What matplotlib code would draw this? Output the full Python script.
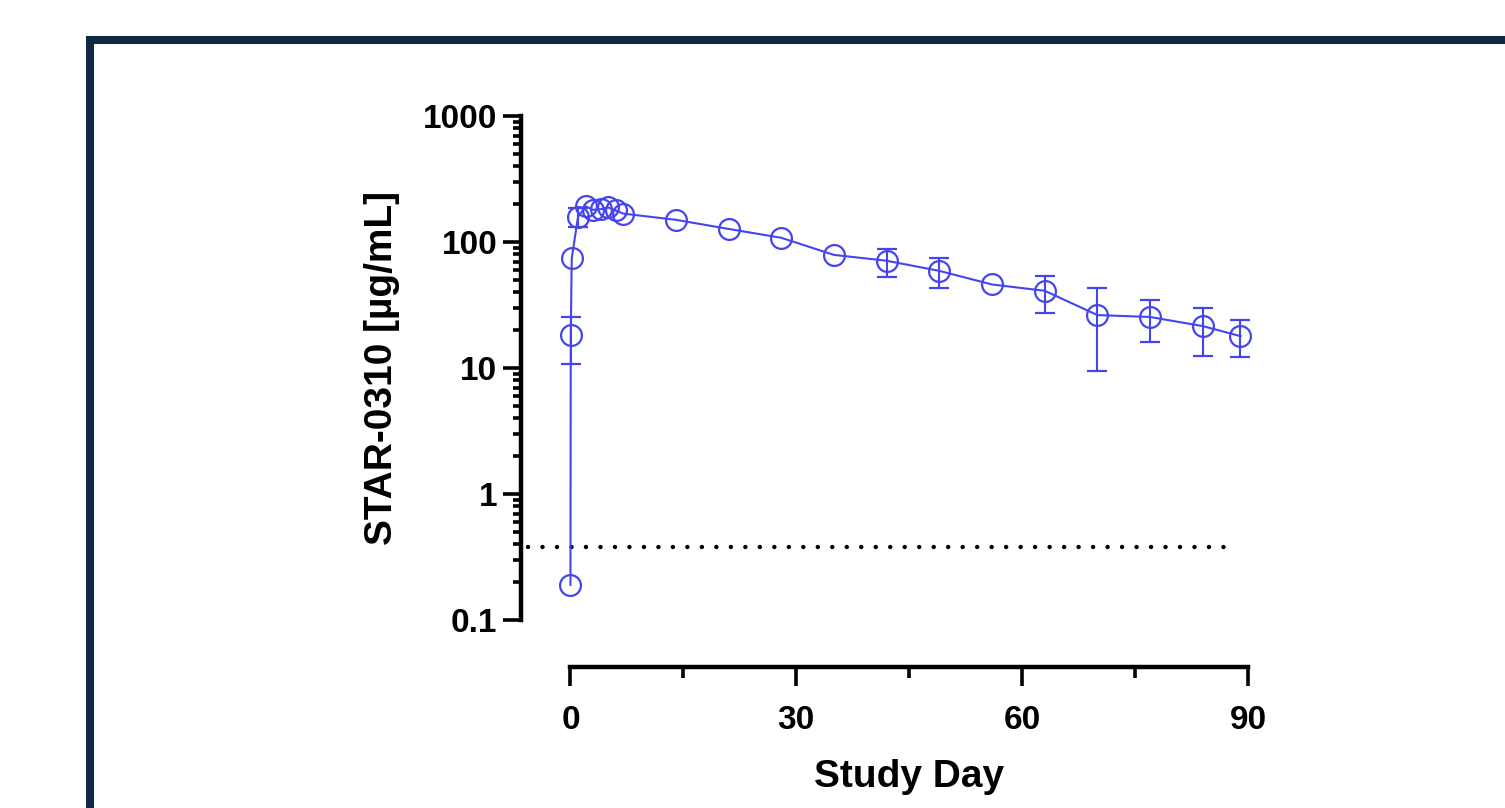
import numpy as np
import matplotlib
matplotlib.use("Agg")
import matplotlib.pyplot as plt
from matplotlib.patches import Rectangle
from matplotlib.ticker import LogLocator, FixedLocator, NullFormatter

plt.rcParams["font.family"] = ["Liberation Sans", "DejaVu Sans"]
plt.rcParams["font.weight"] = "bold"

# Data (nan = error bar hidden inside the marker)
nan = np.nan
study_day = [0, 0.04, 0.17, 1, 2, 3, 4, 5, 6, 7, 14, 21, 28, 35, 42, 49, 56, 63, 70, 77, 84, 89]
conc_mean = [0.19, 18.3, 74, 158, 192, 180, 182, 188, 178, 168,
             150, 127, 108, 79, 71, 59, 46, 41, 26.3, 25.4, 21.5, 17.9]
conc_low = [nan, 10.7, nan, 132, nan, nan, nan, nan, nan, nan,
            nan, nan, nan, nan, 52.7, 43.2, nan, 27.3, 9.5, 16.1, 12.4, 12.2]
conc_high = [nan, 25.5, nan, 185, nan, nan, nan, nan, nan, nan,
             nan, nan, nan, nan, 88, 74.6, nan, 53.7, 43.2, 34.7, 29.9, 24.0]
lloq = 0.38
lloq_span = (-5.7, 88.2)

y_ticks = [0.1, 1, 10, 100, 1000]
y_ticklabels = ["0.1", "1", "10", "100", "1000"]
x_ticks = [0, 30, 60, 90]
x_minor = [15, 45, 75]

blue = "#4545F0"
navy = "#0F2943"

W, H = 1505, 808
fig = plt.figure(figsize=(W / 100, H / 100), dpi=100)

# dark frame around the slide area
fig.add_artist(Rectangle((90 / W, -0.2), 1.2, (808 - 40) / H + 0.2,
                         transform=fig.transFigure, fill=False,
                         edgecolor=navy, linewidth=5.8))

left, right, top, bottom = 521, 1248, 116, 620
ax = fig.add_axes([left / W, (H - bottom) / H, (right - left) / W, (bottom - top) / H])

ax.set_yscale("log")
ax.set_ylim(0.1, 1000)
ax.set_xlim(-6.57, 90)

mean = np.array(conc_mean)
yerr = [mean - np.array(conc_low), np.array(conc_high) - mean]
ax.errorbar(study_day, conc_mean, yerr=yerr, color=blue, linewidth=1.5,
            elinewidth=1.5, capsize=7, capthick=1.5,
            marker="o", markersize=15, markerfacecolor="none",
            markeredgecolor=blue, markeredgewidth=1.6, clip_on=False, zorder=3)

ax.hlines(lloq, lloq_span[0], lloq_span[1], colors="black", linewidth=3.2,
          linestyles=[(0, (0.01, 3.25))])
for ln in ax.collections:
    ln.set_capstyle("round")

# Prism-style axes
for s in ["top", "right"]:
    ax.spines[s].set_visible(False)
ax.spines["left"].set_linewidth(3.2)
ax.spines["bottom"].set_linewidth(3.2)
ax.spines["left"].set_bounds(0.1, 1000)
ax.spines["bottom"].set_bounds(0, 90)
ax.spines["bottom"].set_position(("outward", 34))
ax.spines["left"].set_capstyle("projecting")
ax.spines["bottom"].set_capstyle("projecting")

ax.yaxis.set_major_locator(FixedLocator(y_ticks))
ax.set_yticklabels(y_ticklabels)
ax.yaxis.set_minor_locator(LogLocator(base=10, subs=np.arange(2, 10)))
ax.yaxis.set_minor_formatter(NullFormatter())
ax.set_xticks(x_ticks)
ax.set_xticklabels([str(t) for t in x_ticks])
ax.xaxis.set_minor_locator(FixedLocator(x_minor))

ax.tick_params(axis="y", which="major", length=13, width=2.6, pad=4, labelsize=24)
ax.tick_params(axis="y", which="minor", length=6, width=2.6)
ax.tick_params(axis="x", which="major", length=14, width=2.6, pad=13, labelsize=24)
ax.tick_params(axis="x", which="minor", length=8, width=2.6)
for lab in ax.get_xticklabels() + ax.get_yticklabels():
    lab.set_fontweight("bold")

ax.set_xlabel("Study Day", fontsize=28, fontweight="bold")
ax.xaxis.set_label_coords((909 - left) / (right - left), -(787 - bottom) / (bottom - top))
ax.xaxis.label.set_va("baseline")
ax.set_ylabel("STAR-0310 [µg/mL]", fontsize=28, fontweight="bold")
ax.yaxis.set_label_coords((382 - left) / (right - left), 0.5)
ax.yaxis.label.set_va("center")

fig.savefig("out.png", dpi=100)
